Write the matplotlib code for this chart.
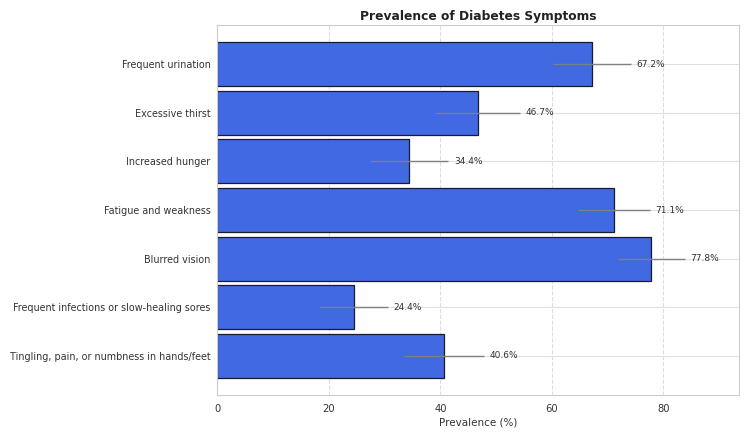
import matplotlib
matplotlib.use("Agg")
import matplotlib.pyplot as plt
import seaborn as sns

symptoms = [
    "Frequent urination",
    "Excessive thirst",
    "Increased hunger",
    "Fatigue and weakness",
    "Blurred vision",
    "Frequent infections or slow-healing sores",
    "Tingling, pain, or numbness in hands/feet",
]
prevalence = [67.2, 46.7, 34.4, 71.1, 77.8, 24.4, 40.6]
errors = [7.0, 7.6, 7.0, 6.5, 6.0, 6.2, 7.2]

sns.set_style("whitegrid")
plt.rcParams["font.family"] = ["DejaVu Sans"]

fig, ax = plt.subplots(figsize=(7.5, 4.38), dpi=100)
y = list(range(len(symptoms)))
ax.barh(y, prevalence, height=0.9, color="royalblue", edgecolor="#1a1a2e",
        linewidth=0.9, zorder=2)
ax.errorbar(prevalence, y, xerr=errors, fmt="none", ecolor="gray",
            elinewidth=1.0, capsize=0, zorder=3)
for yi, v, e in zip(y, prevalence, errors):
    ax.text(v + e + 1, yi, f"{v}%", va="center", ha="left", fontsize=6.5,
            color="#333333")

ax.set_yticks(y)
ax.set_yticklabels(symptoms, fontsize=6.9, color="#333333")
ax.invert_yaxis()
ax.set_xlim(0, 93.5)
ax.tick_params(axis="x", labelsize=7.2, colors="#333333")
ax.tick_params(axis="y", pad=1.5)
ax.set_xlabel("Prevalence (%)", fontsize=7.5, color="#333333", labelpad=2)
ax.set_title("Prevalence of Diabetes Symptoms", fontsize=8.8, fontweight="bold",
             color="#222222", pad=4)
ax.grid(axis="x", linestyle="--", color="#dddddd", linewidth=0.8)
ax.grid(axis="y", linestyle="-", color="#e0e0e0", linewidth=0.8)
ax.set_axisbelow(True)
for s in ax.spines.values():
    s.set_color("#cccccc")

fig.subplots_adjust(left=0.29, right=0.985, top=0.942, bottom=0.099)
fig.savefig("out.png", dpi=100)
